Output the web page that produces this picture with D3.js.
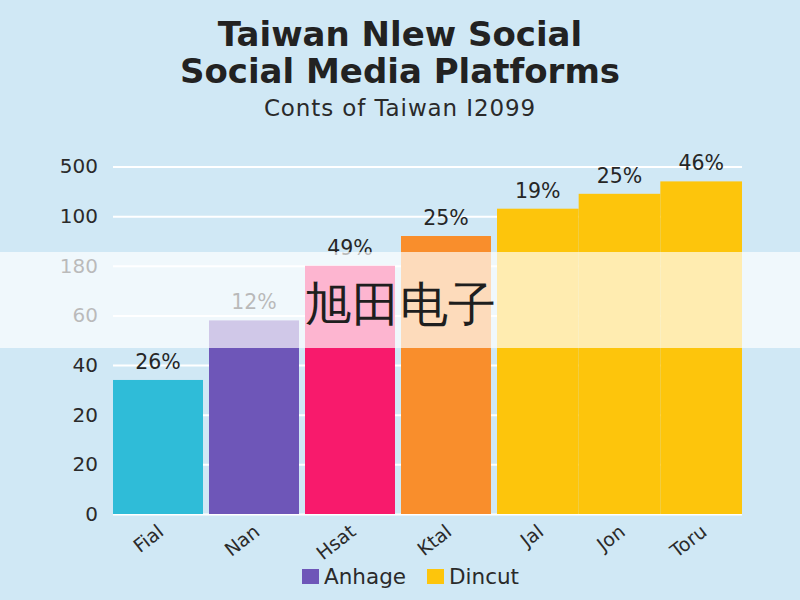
<!DOCTYPE html>
<html>
<head>
<meta charset="utf-8">
<script src="https://cdn.jsdelivr.net/npm/d3@7/dist/d3.min.js"></script>
<style>
  html, body { margin: 0; padding: 0; background: #d0e8f5; }
  svg { display: block; }
  text { font-family: "DejaVu Sans", Verdana, sans-serif; }
</style>
</head>
<body>
<svg id="chart" width="800" height="600"></svg>
<script>
// ---- data ----
const categories = ["Fial", "Nan", "Hsat", "Ktal", "Jal", "Jon", "Toru"];
const values = [54, 78, 100, 112, 123, 129, 134];
const valueLabels = ["26%", "12%", "49%", "25%", "19%", "25%", "46%"];
const seriesOf = ["Fial", "Anhage", "Hsat", "Ktal", "Dincut", "Dincut", "Dincut"];
const yTickValues = [0, 20, 40, 60, 80, 100, 120, 140];
const yTickLabels = ["0", "20", "20", "40", "60", "180", "100", "500"];
const legendNames = ["Anhage", "Dincut"];
const titleLines = ["Taiwan Nlew Social", "Social Media Platforms"];
const subtitle = "Conts of Taiwan I2099";
const watermark = "旭田电子";

// ---- styles ----
const colors = ["#2fbcd8", "#6e56b8", "#f81a6c", "#f98e2c", "#fdc50c", "#fdc50c", "#fdc50c"];
const legendColors = ["#6e56b8", "#fdc50c"];

const svg = d3.select("#chart");
const W = 800, H = 600;
const mLeft = 113, mRight = 742, mTop = 166.5, mBottom = 514;

svg.append("rect").attr("width", W).attr("height", H).attr("fill", "#d0e8f5");

const y = d3.scaleLinear().domain([0, 140]).range([mBottom, mTop]);
// piecewise linear position scale for category slots
const xs = d3.scaleLinear().domain([0, 4, 7]).range([mLeft, 497, mRight]);

// gridlines
const grid = svg.append("g").attr("transform", `translate(${mLeft},0)`)
  .call(d3.axisLeft(y).tickValues(yTickValues).tickSize(-(mRight - mLeft)).tickFormat(""));
grid.select(".domain").remove();
grid.selectAll(".tick line").attr("stroke", "#ffffff").attr("stroke-width", 2);

// y labels
const yAxis = svg.append("g").attr("transform", `translate(98,0)`)
  .call(d3.axisLeft(y).tickValues(yTickValues).tickSize(0).tickPadding(0)
    .tickFormat((d, i) => yTickLabels[i]));
yAxis.select(".domain").remove();
yAxis.selectAll("text").attr("font-size", 20).attr("fill", "#2a2a2a")
  .attr("font-family", "DejaVu Sans, Verdana, sans-serif");

// bars
const gap = 6;
const barW = i => xs(i + 1) - xs(i) - (seriesOf[i] === "Dincut" ? 0 : gap);
svg.append("g").selectAll("rect").data(categories).join("rect")
  .attr("x", (d, i) => xs(i))
  .attr("width", (d, i) => barW(i))
  .attr("y", (d, i) => y(values[i]))
  .attr("height", (d, i) => y(0) - y(values[i]))
  .attr("fill", (d, i) => colors[i]);

// value labels
svg.append("g").selectAll("text").data(categories).join("text")
  .attr("x", (d, i) => xs(i) + barW(i) / 2)
  .attr("y", (d, i) => y(values[i]) - 11)
  .attr("text-anchor", "middle")
  .attr("font-size", 20.5)
  .attr("fill", "#262626")
  .text((d, i) => valueLabels[i]);

// x labels
svg.append("g").selectAll("text").data(categories).join("text")
  .attr("transform", (d, i) => `translate(${xs(i) + barW(i) / 2 + 7},534) rotate(-38)`)
  .attr("text-anchor", "end")
  .attr("font-size", 19)
  .attr("fill", "#2a2a2a")
  .text(d => d);

// title
svg.append("g").selectAll("text").data(titleLines).join("text")
  .attr("x", 400).attr("y", (d, i) => 46 + i * 37)
  .attr("text-anchor", "middle")
  .attr("font-size", 34).attr("font-weight", "bold")
  .attr("fill", "#222")
  .text(d => d);

svg.append("text").attr("x", 400).attr("y", 116)
  .attr("text-anchor", "middle").attr("font-size", 23)
  .attr("letter-spacing", 0.9)
  .attr("fill", "#2a2a2a").text(subtitle);

// legend
const legend = svg.append("g").attr("transform", "translate(302,569)");
const lg = legend.selectAll("g").data(legendNames).join("g")
  .attr("transform", (d, i) => `translate(${i * 125},0)`);
lg.append("rect").attr("width", 17).attr("height", 15).attr("fill", (d, i) => legendColors[i]);
lg.append("text").attr("x", 22).attr("y", 15).attr("font-size", 21.5).attr("fill", "#2a2a2a").text(d => d);

// watermark band
svg.append("rect").attr("x", 0).attr("y", 252).attr("width", W).attr("height", 96)
  .attr("fill", "#ffffff").attr("opacity", 0.68);
svg.append("text").attr("x", 400).attr("y", 321)
  .attr("text-anchor", "middle").attr("font-size", 48)
  .attr("font-family", "Noto Sans CJK SC, sans-serif")
  .attr("fill", "#1e1e1e").text(watermark);
</script>
</body>
</html>
